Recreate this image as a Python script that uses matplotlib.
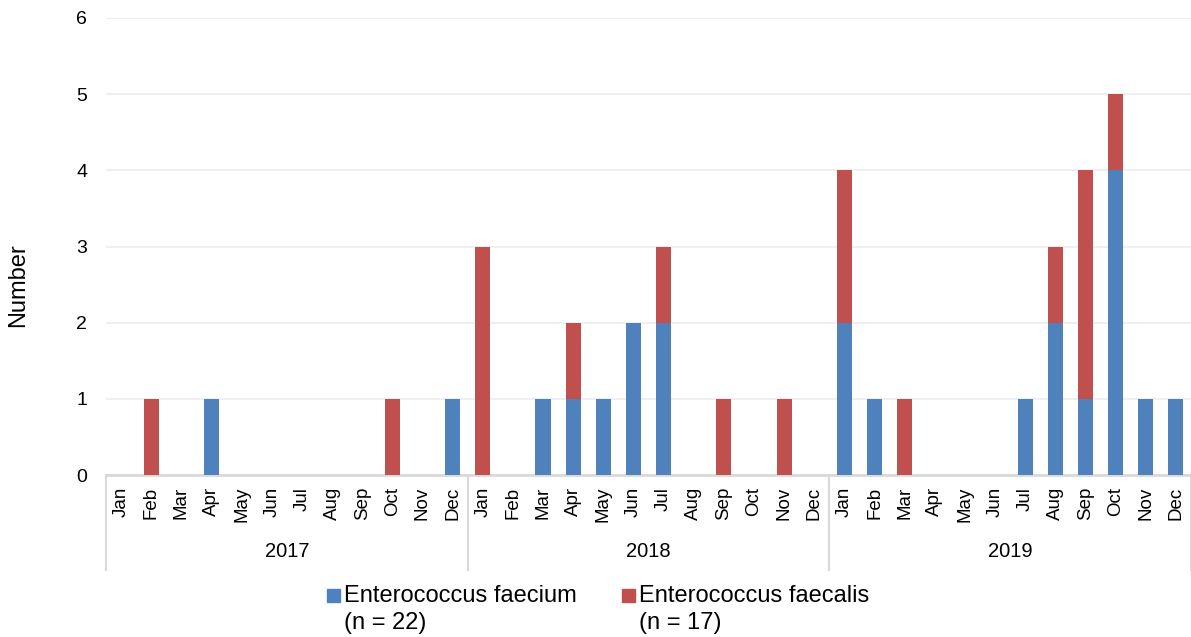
import numpy as np
import matplotlib.pyplot as plt
import matplotlib.transforms as mtransforms
from matplotlib.patches import Rectangle

plt.rcParams['font.family'] = ['Liberation Sans', 'DejaVu Sans']

years = ["2017", "2018", "2019"]
months = ["Jan", "Feb", "Mar", "Apr", "May", "Jun",
          "Jul", "Aug", "Sep", "Oct", "Nov", "Dec"]

# monthly counts, 2017 -> 2019
faecium = [0, 0, 0, 1, 0, 0, 0, 0, 0, 0, 0, 1,
           0, 0, 1, 1, 1, 2, 2, 0, 0, 0, 0, 0,
           2, 1, 0, 0, 0, 0, 1, 2, 1, 4, 1, 1]
faecalis = [0, 1, 0, 0, 0, 0, 0, 0, 0, 1, 0, 0,
            3, 0, 0, 1, 0, 0, 1, 0, 1, 0, 1, 0,
            2, 0, 1, 0, 0, 0, 0, 1, 3, 1, 0, 0]
series_names = ["Enterococcus faecium", "Enterococcus faecalis"]
series_n = [22, 17]

blue = "#4F81BD"
red = "#C0504D"

W, H = 1191, 637
fig = plt.figure(figsize=(W / 100, H / 100), dpi=100)
ax = fig.add_axes([106 / W, 1 - 475 / H, 1 - 106 / W, (475 - 18) / H])

x = np.arange(len(faecium))
ax.bar(x, faecium, width=0.5, color=blue, zorder=3)
ax.bar(x, faecalis, width=0.5, bottom=faecium, color=red, zorder=3)

ax.set_xlim(-0.5, len(x) - 0.5)
ax.set_ylim(0, 6)
ax.set_yticks(range(7))
ax.grid(axis="y", color="#ececec", linewidth=1.2, zorder=0)
for s in ["top", "right", "left"]:
    ax.spines[s].set_visible(False)
ax.spines["bottom"].set_color("#d9d9d9")
ax.spines["bottom"].set_linewidth(2)
ax.tick_params(axis="y", length=0, labelsize=14, pad=13.5)
ax.tick_params(axis="x", length=0, labelsize=13.5, pad=8.5)
ax.set_xticks(x)
ax.set_xticklabels(months * len(years), rotation=90)

ax.set_ylabel("Number", fontsize=17)
ax.yaxis.set_label_coords(-0.071, 0.415)

# year group labels and separators below the axis
trans = mtransforms.blended_transform_factory(ax.transData, ax.transAxes)
for i, yr in enumerate(years):
    ax.text(i * 12 + 5.5, -0.167, yr, transform=trans, ha="center", va="center",
            fontsize=14.5)
for b in range(len(years) + 1):
    ax.plot([b * 12 - 0.5, b * 12 - 0.5], [0, -0.208], transform=trans,
            color="#d9d9d9", linewidth=1.5, clip_on=False)

# legend at the bottom: square aligned with the first line of a two-line label
legend_x = [327, 622]
for lx, name, n, col in zip(legend_x, series_names, series_n, [blue, red]):
    fig.patches.append(Rectangle((lx / W, 1 - 602 / H), 13 / W, 13 / H,
                                 transform=fig.transFigure, color=col))
    fig.text((lx + 17) / W, 1 - 602 / H, name, fontsize=17, va="baseline")
    fig.text((lx + 17) / W, 1 - 628.5 / H, f"(n = {n})", fontsize=17, va="baseline")

fig.savefig("out.png", dpi=100)
